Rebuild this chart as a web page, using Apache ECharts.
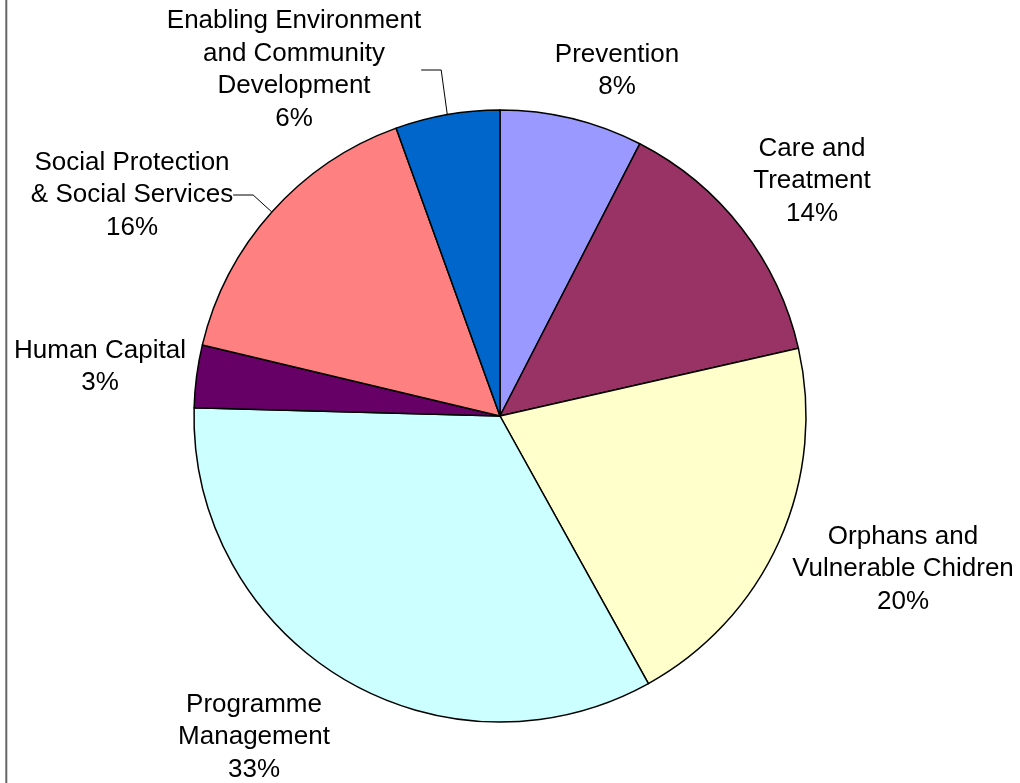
<!DOCTYPE html>
<html>
<head>
<meta charset="utf-8">
<script src="https://cdn.jsdelivr.net/npm/echarts@6/dist/echarts.min.js"></script>
<style>
html,body{margin:0;padding:0;background:#fff;}
#chart{width:1020px;height:783px;}
</style>
</head>
<body>
<div id="chart"></div>
<script>
const categories = [
  "Prevention",
  "Care and\nTreatment",
  "Orphans and\nVulnerable Chidren",
  "Programme\nManagement",
  "Human Capital",
  "Social Protection\n& Social Services",
  "Enabling Environment\nand Community\nDevelopment"
];
const values = [7.55, 13.9, 20.49, 33.49, 3.3, 15.76, 5.51];
const colors = ["#9999FF", "#993366", "#FFFFCC", "#CCFFFF", "#660066", "#FF8080", "#0066CC"];
const showLeader = [false, false, false, false, false, true, true];
// label block centres (layout)
const labelPos = [[617, 71], [812, 181], [903, 569], [254, 737], [100, 367], [132, 195], [294, 70]];

const chart = echarts.init(document.getElementById('chart'), null, {renderer: 'canvas'});
const option = {
  animation: false,
  backgroundColor: '#ffffff',
  graphic: [{
    type: 'line',
    shape: {x1: 6.3, y1: 0, x2: 6.3, y2: 783},
    style: {stroke: '#666666', lineWidth: 2}
  }],
  series: [{
    type: 'pie',
    center: [500, 416],
    radius: 306,
    startAngle: 90,
    clockwise: true,
    avoidLabelOverlap: false,
    itemStyle: {borderColor: '#000000', borderWidth: 1.5},
    emphasis: {disabled: true},
    label: {
      show: true,
      position: 'outside',
      fontFamily: 'Liberation Sans, Arial, sans-serif',
      fontSize: 26,
      lineHeight: 32.5,
      color: '#000000',
      align: 'center',
      formatter: function (p) { return p.name + '\n' + Math.round(p.value) + '%'; }
    },
    labelLine: {show: true, length: 10, length2: 20, lineStyle: {color: '#000000', width: 1}},
    labelLayout: function (params) {
      const p = labelPos[params.dataIndex];
      return {x: p[0], y: p[1], align: 'center', verticalAlign: 'middle'};
    },
    data: categories.map(function (c, i) {
      return {
        name: c,
        value: values[i],
        itemStyle: {color: colors[i]},
        labelLine: {show: showLeader[i]}
      };
    })
  }]
};
chart.setOption(option);
</script>
</body>
</html>
